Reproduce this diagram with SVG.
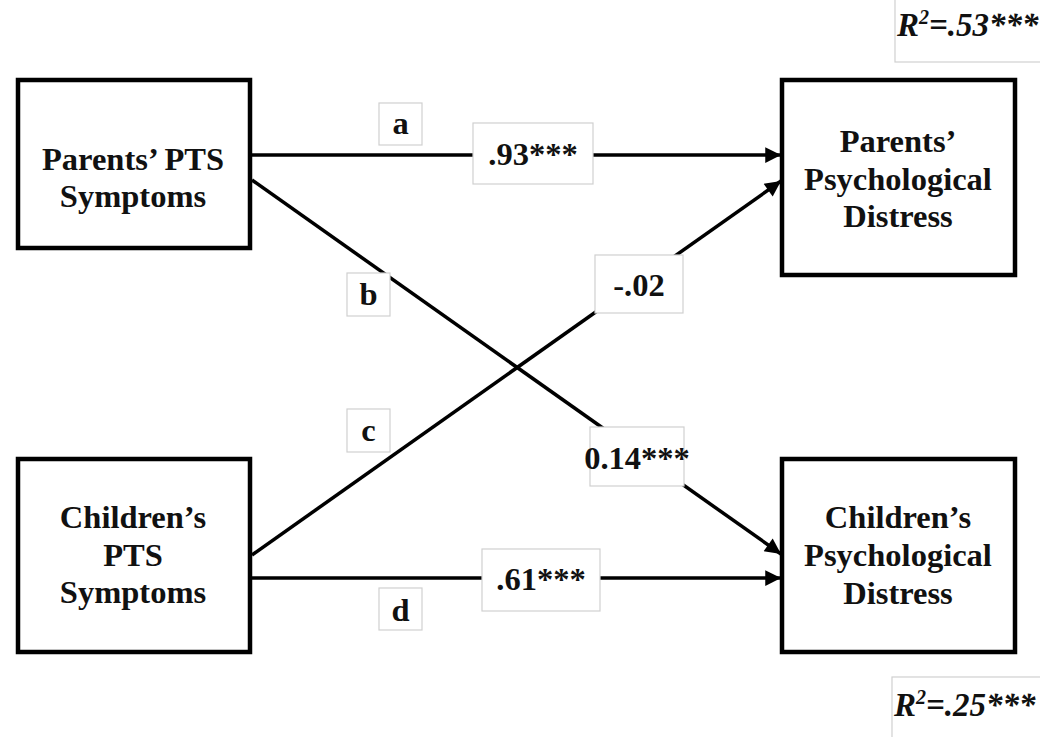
<svg xmlns="http://www.w3.org/2000/svg" width="1040" height="737" viewBox="0 0 1040 737">
<defs>
<style>
.node{fill:#fff;stroke:#000;stroke-width:4.5}
.nt{font-family:"Liberation Serif","Times New Roman",serif;font-weight:bold;font-size:32.5px;fill:#111;text-anchor:middle}
.lb{fill:#fff;stroke:#d0d0d0;stroke-width:1.2}
.lt{font-family:"Liberation Serif","Times New Roman",serif;font-weight:bold;font-size:32.5px;fill:#111;text-anchor:middle}
.r2{font-family:"Liberation Serif","Times New Roman",serif;font-weight:bold;font-style:italic;font-size:33px;fill:#111}
.edge{stroke:#000;stroke-width:3.5;fill:none;marker-end:url(#ah)}
</style>
<marker id="ah" viewBox="0 0 10 10" refX="10" refY="5" markerWidth="5" markerHeight="4.5" markerUnits="strokeWidth" orient="auto">
<path d="M0,0 L10,5 L0,10 z" fill="#000"/>
</marker>
</defs>
<rect width="1040" height="737" fill="#fff"/>

<g id="connectors">
<line class="edge" x1="252" y1="155" x2="781" y2="155"/>
<line class="edge" x1="252" y1="180" x2="781" y2="554"/>
<line class="edge" x1="252" y1="555" x2="781" y2="181"/>
<line class="edge" x1="252" y1="578" x2="781" y2="578"/>
</g>

<g id="node-parents-pts">
<rect class="node" x="18" y="80" width="232" height="168"/>
<text class="nt" x="133" y="170">Parents’ PTS</text>
<text class="nt" x="133" y="207">Symptoms</text>
</g>

<g id="node-children-pts">
<rect class="node" x="18" y="459" width="232" height="193"/>
<text class="nt" x="133" y="528">Children’s</text>
<text class="nt" x="133" y="566">PTS</text>
<text class="nt" x="133" y="603">Symptoms</text>
</g>

<g id="node-parents-distress">
<rect class="node" x="782" y="80" width="233" height="195"/>
<text class="nt" x="898" y="152">Parents’</text>
<text class="nt" x="898" y="190">Psychological</text>
<text class="nt" x="898" y="227">Distress</text>
</g>

<g id="node-children-distress">
<rect class="node" x="782" y="459" width="233" height="193"/>
<text class="nt" x="898" y="528">Children’s</text>
<text class="nt" x="898" y="566">Psychological</text>
<text class="nt" x="898" y="604">Distress</text>
</g>

<g id="label-a">
<rect class="lb" x="379" y="103" width="43" height="42"/>
<text class="lt" x="400.5" y="134">a</text>
</g>
<g id="label-a-coef">
<rect class="lb" x="473" y="123" width="120" height="61"/>
<text class="lt" x="533" y="165">.93***</text>
</g>
<g id="label-b">
<rect class="lb" x="347" y="273" width="43" height="43"/>
<text class="lt" x="368.5" y="305">b</text>
</g>
<g id="label-c-coef">
<rect class="lb" x="595" y="255" width="88" height="58"/>
<text class="lt" x="639" y="296">-.02</text>
</g>
<g id="label-c">
<rect class="lb" x="347" y="409" width="43" height="43"/>
<text class="lt" x="368.5" y="441">c</text>
</g>
<g id="label-b-coef">
<rect class="lb" x="590" y="427" width="94" height="59"/>
<text class="lt" x="637" y="469">0.14***</text>
</g>
<g id="label-d-coef">
<rect class="lb" x="482" y="549" width="118" height="62"/>
<text class="lt" x="541" y="590">.61***</text>
</g>
<g id="label-d">
<rect class="lb" x="379" y="588" width="43" height="42"/>
<text class="lt" x="400.5" y="621">d</text>
</g>

<g id="r2-top">
<rect class="lb" x="895" y="-2" width="150" height="64"/>
<text class="r2" x="897" y="36">R<tspan font-size="20" dy="-12">2</tspan><tspan dy="12">=.53***</tspan></text>
</g>
<g id="r2-bottom">
<rect class="lb" x="892" y="677" width="150" height="64"/>
<text class="r2" x="894" y="716">R<tspan font-size="20" dy="-12">2</tspan><tspan dy="12">=.25***</tspan></text>
</g>
</svg>
